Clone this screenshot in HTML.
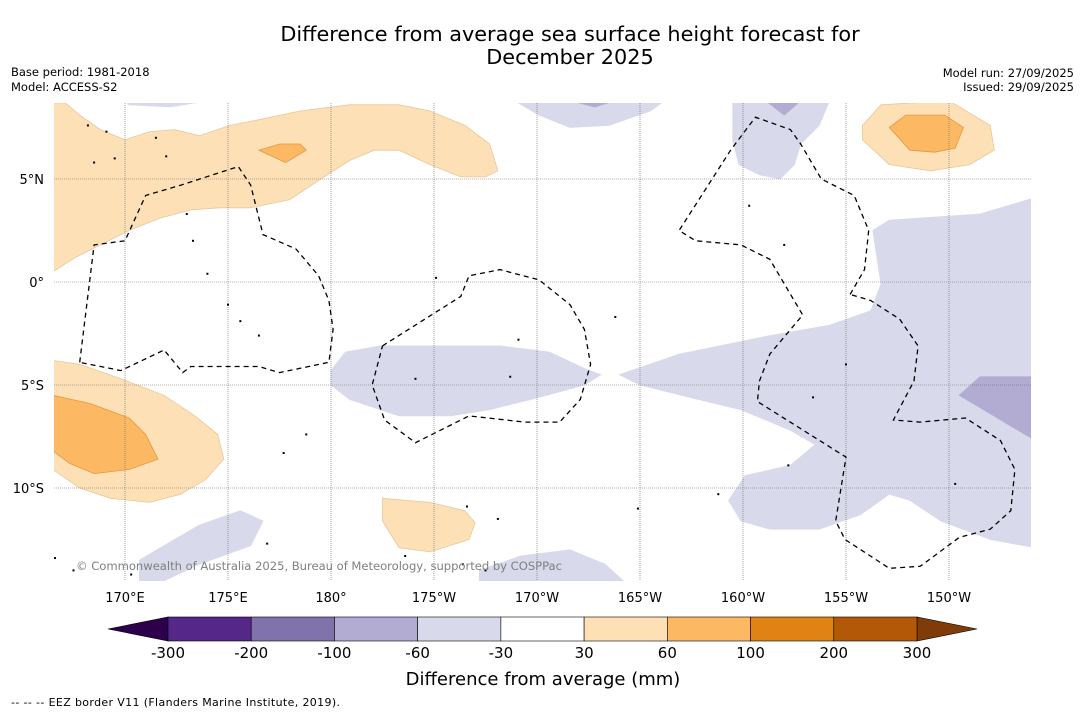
<!DOCTYPE html>
<html><head><meta charset="utf-8"><style>
body{margin:0;background:#fff;width:1085px;height:713px;overflow:hidden;font-family:"Liberation Sans","DejaVu Sans",sans-serif}
svg text{font-family:"DejaVu Sans","Liberation Sans",sans-serif}
</style></head><body>
<svg id="chart" width="1085" height="713" xmlns="http://www.w3.org/2000/svg">
<text x="570" y="41" font-size="20.8" text-anchor="middle">Difference from average sea surface height forecast for</text>
<text x="570" y="64" font-size="20.8" text-anchor="middle">December 2025</text>
<text x="11" y="76" font-size="11.5">Base period: 1981-2018</text>
<text x="11" y="91" font-size="11.5">Model: ACCESS-S2</text>
<text x="1074" y="77" font-size="11.5" text-anchor="end">Model run: 27/09/2025</text>
<text x="1074" y="91" font-size="11.5" text-anchor="end">Issued: 29/09/2025</text>
<defs><clipPath id="mapclip"><rect x="54" y="103" width="977" height="478"/></clipPath></defs>
<g id="fills" clip-path="url(#mapclip)"></g>
<g id="grid"></g>
<g id="eez" clip-path="url(#mapclip)"></g>
<g id="islands" clip-path="url(#mapclip)"></g>
<text x="76" y="570" font-size="11.6" fill="#808080" textLength="486">© Commonwealth of Australia 2025, Bureau of Meteorology, supported by COSPPac</text>
<g id="axes"></g>
<g id="cbar"></g>
<text x="543" y="685" font-size="18" text-anchor="middle">Difference from average (mm)</text>
<text x="11" y="706" font-size="11" textLength="329">--  --  -- EEZ border V11 (Flanders Marine Institute, 2019).</text>
</svg>
<script>
const NS="http://www.w3.org/2000/svg";
const lonTicks=[170,175,180,185,190,195,200,205,210];
const lonLabels=["170°E","175°E","180°","175°W","170°W","165°W","160°W","155°W","150°W"];
const latTicks=[5,0,-5,-10];
const latLabels=["5°N","0°","5°S","10°S"];
const cbarBounds=[-300,-200,-100,-60,-30,30,60,100,200,300];
const cbarColors=["#542788","#8073ac","#b2abd2","#d8daeb","#ffffff","#fee0b6","#fdb863","#e08214","#b35806"];
const contourLevels=["light-orange","dark-orange","light-orange","dark-orange","light-orange","dark-orange","light-orange","lavender","lavender","lavender","lavender","lavender","lavender","lavender","mid-lavender","mid-lavender","mid-lavender"];
const contourPolys=[
[[166.5,8.7],[167.1,8.7],[167.8,8.1],[168.8,7.4],[170,6.9],[171.2,7.3],[172.4,7.4],[173.6,7.1],[175.1,7.6],[176.6,7.9],[178.5,8.3],[180.9,8.6],[183.3,8.6],[184.8,8.3],[186.5,7.6],[187.7,6.7],[188.1,5.4],[187.5,5.1],[186.3,5.1],[184.8,5.7],[183.3,6.4],[182.1,6.4],[180.9,5.9],[179.5,5.0],[178,4.0],[176.1,3.6],[174.6,3.6],[173.2,3.5],[171.7,3.1],[170.2,2.5],[168.8,1.8],[167.6,1.2],[166.5,0.5]],
[[176.5,6.4],[177.5,6.7],[178.5,6.7],[178.8,6.4],[177.8,5.8]],
[[205.8,7.6],[206.7,8.6],[210,8.8],[212,7.6],[212.2,6.4],[211,5.7],[209.1,5.4],[207.1,5.7],[205.8,6.9]],
[[207.1,7.5],[207.9,8.1],[209.8,8.1],[210.7,7.5],[210.3,6.5],[209.3,6.3],[208.1,6.4]],
[[166.5,-3.8],[167.8,-4.0],[169.8,-4.7],[171.9,-5.5],[173.4,-6.5],[174.5,-7.4],[174.8,-8.6],[173.9,-9.6],[172.7,-10.3],[171.2,-10.7],[169.3,-10.5],[167.8,-10.0],[166.5,-9.1]],
[[166.5,-5.5],[168.3,-5.9],[170.2,-6.6],[171,-7.4],[171.6,-8.6],[170.2,-9.1],[168.5,-9.3],[167.3,-8.8],[166.5,-8.2]],
[[182.5,-10.5],[184.8,-10.7],[186.5,-11.1],[187,-11.7],[186.7,-12.5],[184.8,-13.1],[183.3,-12.9],[182.5,-11.6]],
[[180,-4.3],[180.7,-3.4],[182.4,-3.1],[188.2,-3.1],[190.6,-3.4],[192.3,-4.2],[193.1,-4.5],[192.3,-5.0],[190.1,-5.6],[187.7,-6.2],[185.8,-6.5],[183.3,-6.5],[180.9,-5.7],[180,-5.0]],
[[194,-4.5],[196.9,-3.5],[201.3,-2.6],[204.2,-2.1],[206.2,-1.4],[206.7,-0.1],[206.3,2.5],[207.1,3.0],[211.5,3.3],[214.2,4.1],[214.2,-12.9],[212,-12.5],[209.6,-11.6],[208.1,-10.6],[207.1,-10.3],[205.7,-11.3],[203.7,-12.0],[201.3,-12.0],[199.9,-11.6],[199.3,-10.6],[200.1,-9.4],[202.3,-8.9],[203.5,-7.9],[202.3,-7.2],[199.9,-6.2],[197.4,-5.6],[195,-5.0]],
[[199.5,8.8],[204.2,8.8],[203.7,7.6],[202.8,6.7],[202.5,5.7],[201.8,5.0],[200.8,5.2],[199.8,5.7],[199.5,6.9]],
[[188.9,8.8],[196.2,8.8],[195.5,8.3],[193.5,7.6],[191.6,7.5],[190.1,8.1]],
[[170,8.8],[174.1,8.8],[172.2,8.5],[170.2,8.6]],
[[170.7,-13.5],[173.6,-11.8],[175.6,-11.1],[176.7,-11.6],[176.1,-12.8],[173.6,-13.7],[171.7,-14.6],[170.7,-14.6]],
[[187.2,-14],[189.2,-13.3],[191.6,-13],[193.3,-13.7],[194.3,-14.6],[187.2,-14.6]],
[[210.5,-5.5],[211.5,-4.6],[214.2,-4.6],[214.2,-7.7]],
[[201.1,8.8],[202.8,8.8],[202,8.1]],
[[191.6,8.8],[193.8,8.8],[192.8,8.5]]
];
const levelColor={"light-orange":"#fee0b6","dark-orange":"#fdb863","lavender":"#d8daeb","mid-lavender":"#b2abd2"};
const levelStroke={"light-orange":"#e8c89a","dark-orange":"#e09a40","lavender":"#d8daeb","mid-lavender":"#b2abd2"};
const eezLines=[
[[167.8,-3.9],[168.5,1.8],[170,2.0],[171,4.2],[172.7,4.7],[175.5,5.6],[176.1,4.7],[176.7,2.3],[178.3,1.6],[179.4,0.3],[179.9,-0.9],[180.1,-2.3],[179.9,-3.9],[177.5,-4.4],[176.5,-4.1],[173.2,-4.1],[172.8,-4.4],[171.9,-3.3],[169.8,-4.3],[167.8,-3.9]],
[[182.5,-3.1],[186.3,-0.7],[186.7,0.3],[188.2,0.6],[190.1,0.1],[191.6,-1.1],[192.3,-2.3],[192.6,-4.0],[192.1,-5.7],[191.1,-6.8],[189.4,-6.8],[186.7,-6.5],[184.1,-7.8],[182.6,-6.7],[182,-5.0],[182.5,-3.1]],
[[205.2,-0.6],[205.9,0.6],[206.1,2.5],[205.4,4.2],[203.8,5.0],[202.8,6.7],[202.3,7.4],[200.6,8.0],[199.4,6.4],[196.9,2.5],[197.7,2.0],[199.9,1.8],[201.3,1.1],[202.9,-1.6],[201.3,-3.5],[200.8,-4.8],[200.7,-5.8],[205,-8.5],[204.5,-11.6],[204.95,-12.5],[207.1,-13.9],[208.6,-13.8],[210.5,-12.4],[212,-12.0],[213,-11.1],[213.2,-9.1],[212.5,-7.7],[210.8,-6.6],[208.6,-6.8],[207.3,-6.7],[208.3,-4.8],[208.5,-3.1],[207.6,-1.8],[206.2,-0.9],[205.2,-0.6]]
];
const islandPts=[[168.2,7.6],[169.1,7.3],[171.5,7.0],[172,6.1],[168.5,5.8],[169.5,6.0],[173,3.3],[173.3,2.0],[174,0.4],[175,-1.1],[175.6,-1.9],[176.5,-2.6],[185.1,0.2],[184.1,-4.7],[189.1,-2.8],[188.7,-4.6],[193.8,-1.7],[200.3,3.7],[202,1.8],[205,-4.0],[203.4,-5.6],[178.8,-7.4],[177.7,-8.3],[186.6,-10.9],[188.1,-11.5],[194.9,-11.0],[202.2,-8.9],[198.8,-10.3],[186.4,-13.7],[187.5,-14.0],[167.5,-14.0],[166.6,-13.4],[170.3,-14.2],[176.9,-12.7],[183.6,-13.3],[210.3,-9.8]];
function X(lon){return 125+(lon-170)*20.6;}
function Y(lat){return 282-lat*20.6;}
function CB(v){const i=cbarBounds.indexOf(v);return 168+i*(917-168)/(cbarBounds.length-1);}
function pathOf(pts,close){return pts.map((p,i)=>(i?"L":"M")+X(p[0]).toFixed(1)+","+Y(p[1]).toFixed(1)).join("")+(close?"Z":"");}
const fills=document.getElementById("fills");
contourPolys.forEach((poly,i)=>{
  const p=document.createElementNS(NS,"path");
  p.setAttribute("d",pathOf(poly,true));
  p.setAttribute("fill",levelColor[contourLevels[i]]);
  p.setAttribute("stroke",levelStroke[contourLevels[i]]);
  p.setAttribute("stroke-width","0.8");
  
  
  fills.appendChild(p);
});
const grid=document.getElementById("grid"),axes=document.getElementById("axes");
lonTicks.forEach((lon,i)=>{
  const l=document.createElementNS(NS,"line");
  l.setAttribute("x1",X(lon));l.setAttribute("x2",X(lon));l.setAttribute("y1",103);l.setAttribute("y2",581);
  l.setAttribute("stroke","#666");l.setAttribute("stroke-width","0.6");l.setAttribute("stroke-dasharray","1,1");
  
  
  grid.appendChild(l);
  const t=document.createElementNS(NS,"text");
  t.setAttribute("x",X(lon));t.setAttribute("y",602);t.setAttribute("font-size","13");t.setAttribute("text-anchor","middle");
  t.textContent=lonLabels[i];
  
  
  axes.appendChild(t);
});
latTicks.forEach((lat,i)=>{
  const l=document.createElementNS(NS,"line");
  l.setAttribute("x1",54);l.setAttribute("x2",1031);l.setAttribute("y1",Y(lat));l.setAttribute("y2",Y(lat));
  l.setAttribute("stroke","#666");l.setAttribute("stroke-width","0.6");l.setAttribute("stroke-dasharray","1,1");
  
  
  grid.appendChild(l);
  const t=document.createElementNS(NS,"text");
  t.setAttribute("x",44);t.setAttribute("y",Y(lat)+5);t.setAttribute("font-size","13");t.setAttribute("text-anchor","end");
  t.textContent=latLabels[i];
  
  
  axes.appendChild(t);
});
const eez=document.getElementById("eez");
eezLines.forEach(line=>{
  const p=document.createElementNS(NS,"path");
  p.setAttribute("d",pathOf(line,false));
  p.setAttribute("fill","none");p.setAttribute("stroke","#000");p.setAttribute("stroke-width","1.3");p.setAttribute("stroke-dasharray","5,4");
  
  
  eez.appendChild(p);
});
const isl=document.getElementById("islands");
islandPts.forEach(pt=>{
  const c=document.createElementNS(NS,"rect");
  c.setAttribute("x",X(pt[0])-1);c.setAttribute("y",Y(pt[1])-1);c.setAttribute("width",2);c.setAttribute("height",2);c.setAttribute("fill","#000");
  
  
  isl.appendChild(c);
});
const cb=document.getElementById("cbar");
const y0=617,y1=641;
const left=document.createElementNS(NS,"polygon");
left.setAttribute("points",`${CB(-300)},${y0} ${CB(-300)},${y1} 108,${(y0+y1)/2}`);left.setAttribute("fill","#2d004b");left.setAttribute("stroke","#000");left.setAttribute("stroke-width","0.6");


cb.appendChild(left);
const right=document.createElementNS(NS,"polygon");
right.setAttribute("points",`${CB(300)},${y0} ${CB(300)},${y1} 977,${(y0+y1)/2}`);right.setAttribute("fill","#7f3b08");right.setAttribute("stroke","#000");right.setAttribute("stroke-width","0.6");


cb.appendChild(right);
cbarColors.forEach((col,i)=>{
  const r=document.createElementNS(NS,"rect");
  const xa=CB(cbarBounds[i]),xb=CB(cbarBounds[i+1]);
  r.setAttribute("x",xa);r.setAttribute("y",y0);r.setAttribute("width",xb-xa);r.setAttribute("height",y1-y0);
  r.setAttribute("fill",col);r.setAttribute("stroke","#000");r.setAttribute("stroke-width","0.6");
  
  
  cb.appendChild(r);
});
cbarBounds.forEach(v=>{
  const t=document.createElementNS(NS,"text");
  t.setAttribute("x",CB(v));t.setAttribute("y",658);t.setAttribute("font-size","15");t.setAttribute("text-anchor","middle");
  t.textContent=String(v);
  
  
  cb.appendChild(t);
});
</script>
</body></html>
